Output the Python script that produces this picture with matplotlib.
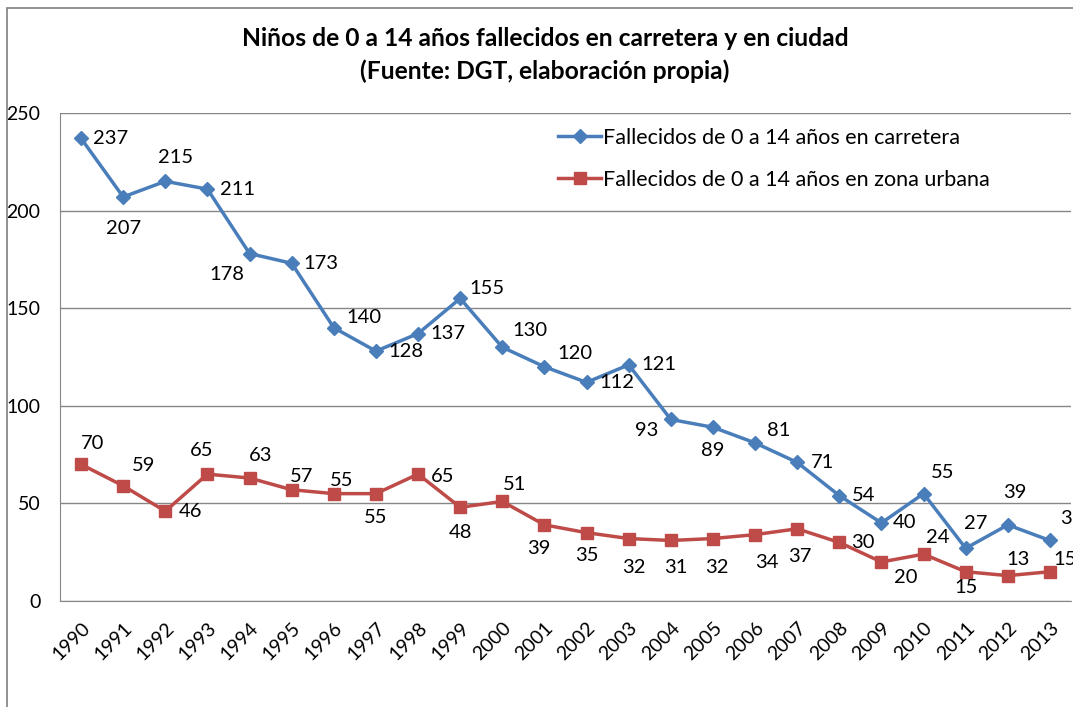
import numpy as np
import matplotlib
matplotlib.use('Agg')
import matplotlib.pyplot as plt
from matplotlib.patches import Rectangle

## Data
years = [str(y) for y in range(1990, 2014)]
carretera = [237, 207, 215, 211, 178, 173, 140, 128, 137, 155, 130, 120,
             112, 121, 93, 89, 81, 71, 54, 40, 55, 27, 39, 31]
urbana = [70, 59, 46, 65, 63, 57, 55, 55, 65, 48, 51, 39,
          35, 32, 31, 32, 34, 37, 30, 20, 24, 15, 13, 15]

# where each data label sits, offset from its point in pixels
off_carretera = [(29, 0), (0, -32), (10, 24), (30, 0), (-23, -21), (29, 0),
                 (30, 10), (30, 0), (30, 0), (27, 10), (28, 17), (30, 13),
                 (30, 0), (30, 0), (-24, -11), (0, -23), (24, 12), (25, 0),
                 (24, 0), (23, 0), (19, 21), (10, 25), (7, 32), (22, 22)]
off_urbana = [(12, 21), (20, 20), (25, 0), (-6, 24), (11, 23), (10, 13),
              (8, 13), (0, -24), (25, -2), (0, -25), (12, 17), (-6, -24),
              (0, -23), (5, -29), (5, -27), (4, -29), (12, -28), (3, -28),
              (24, 0), (24, -16), (14, 17), (0, -16), (10, 16), (15, 12)]

blue = '#4A7EBB'
red = '#BE4B48'
grid_col = '#868686'

plt.rcParams['font.family'] = ['Lato', 'DejaVu Sans']

fig = plt.figure(figsize=(10.73, 7.07), dpi=100)
ax = fig.add_axes([60 / 1073, 1 - 601 / 707, 1011 / 1073, 488 / 707])

# chart border (cropped on right and bottom)
fig.patches.append(Rectangle((7 / 1073, -0.1), 1.2, 1 - 8 / 707 + 0.1,
                             transform=fig.transFigure, fill=False,
                             edgecolor='#7F7F7F', linewidth=1.2))

x = np.arange(len(years))
ax.plot(x, carretera, color=blue, linewidth=2.5, marker='D', markersize=7,
        label='Fallecidos de 0 a 14 años en carretera')
ax.plot(x, urbana, color=red, linewidth=2.5, marker='s', markersize=8,
        label='Fallecidos de 0 a 14 años en zona urbana')

for xi, v, o in zip(x, carretera, off_carretera):
    ax.annotate(str(v), (xi, v), xytext=o, textcoords='offset pixels',
                ha='center', va='center', fontsize=14.5, annotation_clip=False)
for xi, v, o in zip(x, urbana, off_urbana):
    ax.annotate(str(v), (xi, v), xytext=o, textcoords='offset pixels',
                ha='center', va='center', fontsize=14.5, annotation_clip=False)

ax.set_xlim(-0.5, len(years) - 0.5)
ax.set_ylim(0, 250)
ax.set_yticks(range(0, 251, 50))
ax.set_xticks(x)
ax.set_xticklabels(years, rotation=45, ha='right', rotation_mode='anchor')
ax.tick_params(axis='both', length=0, labelsize=14, colors='black')
ax.tick_params(axis='y', pad=14)
ax.tick_params(axis='x', pad=13)
ax.yaxis.grid(True, color=grid_col, linewidth=1)
ax.set_axisbelow(True)
for s in ['top', 'right']:
    ax.spines[s].set_visible(False)
for s in ['left', 'bottom']:
    ax.spines[s].set_color(grid_col)

fig.text(545 / 1073, 1 - 38 / 707, 'Niños de 0 a 14 años fallecidos en carretera y en ciudad',
         ha='center', va='center', fontsize=17.7, fontweight='bold')
fig.text(545 / 1073, 1 - 71 / 707, '(Fuente: DGT, elaboración propia)',
         ha='center', va='center', fontsize=17.7, fontweight='bold')

ax.legend(loc='upper left', bbox_to_anchor=(558 / 1073, 1 - 128 / 707),
          bbox_transform=fig.transFigure, frameon=False, fontsize=15.5,
          handlelength=2.0, handletextpad=0.1, labelspacing=1.0,
          borderpad=0, borderaxespad=0)

fig.savefig('out.png', dpi=100)
